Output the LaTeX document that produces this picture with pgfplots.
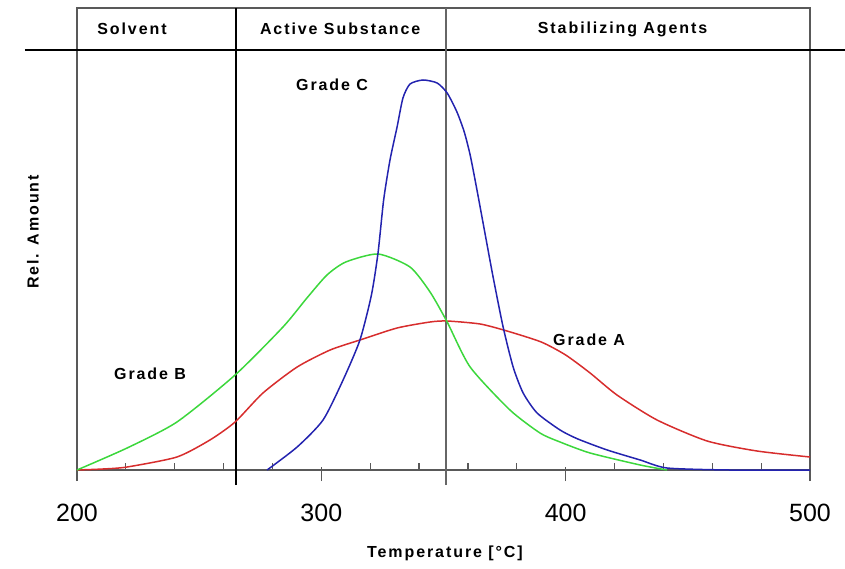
\documentclass[border=0pt]{standalone}
\usepackage{pgfplots}
\pgfplotsset{compat=1.18}
\usepackage{fontspec}
\setmainfont{Liberation Sans}
\newfontfamily\lblfont[LetterSpace=12]{Liberation Sans}

\definecolor{gradeA}{RGB}{215,45,45}
\definecolor{gradeB}{RGB}{60,215,60}
\definecolor{gradeC}{RGB}{35,35,175}

\newcommand{\lbl}[1]{{\lblfont\bfseries\fontsize{16}{19}\selectfont #1}}

\begin{document}
\begin{tikzpicture}
	\path[use as bounding box] (-77pt,-98pt) rectangle (768pt,470pt);
	\begin{axis}[
		scale only axis,
		width = 733pt,
		height = 462pt,
		xmin = 200, xmax = 500,
		ymin = 0, ymax = 462,
		clip = false,
		axis line style = {black!65, line width=1.5pt},
		xtick = {200, 300, 400, 500},
		minor x tick num = 4,
		xtick pos = bottom,
		ytick = \empty,
		tick align = center,
		major tick length = 14pt,
		minor tick length = 7pt,
		major tick style = {black!65, line width=1.2pt, yshift=-4pt},
		minor tick style = {black!65, line width=1.2pt, yshift=3.5pt},
		/pgf/number format/assume math mode = true,
		xticklabel style = {font=\fontsize{25}{30}\selectfont, anchor=base, yshift=-44pt},
		every axis plot/.append style = {line width=1.5pt, smooth, tension=0.4},
	]
		% header band and region borders
		\draw[black, line width=1.5pt] (axis cs:178.7,420) -- (axis cs:514.4,420);
		\draw[black, line width=2pt] (axis cs:265,-15) -- (axis cs:265,462);
		\draw[black!60, line width=2pt] (axis cs:351,-15) -- (axis cs:351,462);

		% Grade A
		\addplot[color = gradeA] coordinates {
		( 200, 0 ) ( 210.6, 1 ) ( 220.5, 3 ) ( 240.9, 13 ) ( 254.4, 30 )
		( 264.7, 48 ) ( 276.1, 77 ) ( 290.1, 103 ) ( 303.6, 120 ) ( 315.8, 130 )
		( 331, 142 ) ( 344.5, 148 ) ( 351.5, 149 ) ( 365, 146 ) ( 376, 139 )
		( 390, 128 ) ( 400, 115 ) ( 410, 97 ) ( 421, 75 ) ( 437.4, 50 ) ( 457.9, 29 )
		( 478.3, 19 ) ( 500, 13 )
		};
		% Grade B
		\addplot[color = gradeB] coordinates {
		( 200, 0 ) ( 220.5, 22 ) ( 240.9, 48 ) ( 264.7, 95 ) ( 284.3, 143 )
		( 294.1, 172 ) ( 302.3, 195 ) ( 310, 208 ) ( 323.2, 216 ) ( 336.3, 203 )
		( 344.5, 178 ) ( 351.5, 148 ) ( 360.9, 103 ) ( 377.2, 60 ) ( 389.5, 37 )
		( 397.7, 28 ) ( 410, 17 ) ( 430.5, 5 ) ( 441.5, 0 )
		};
		% Grade C
		\addplot[color = gradeC] coordinates {
		( 277.8, 0 ) ( 290.1, 23 ) ( 300.7, 50 ) ( 308.9, 90 ) ( 315.8, 130 )
		( 320.5, 175 ) ( 323.2, 217 ) ( 325.5, 270 ) ( 328.1, 310 ) ( 331, 343 )
		( 333.4, 372 ) ( 336.3, 386 ) ( 341.6, 390 ) ( 347.4, 387 ) ( 351.5, 377 )
		( 355.5, 358 ) ( 358.5, 338 ) ( 361, 314 ) ( 363.7, 280 ) ( 366.5, 243 )
		( 370.3, 193 ) ( 374.4, 143 ) ( 378.5, 103 ) ( 382.6, 77 ) ( 388.3, 57 )
		( 397.7, 40 ) ( 405, 31 ) ( 417, 20 ) ( 430.5, 10 ) ( 441.5, 2 )
		( 467, 0 ) ( 500, 0 )
		};

		% labels
		\node at (axis cs:222.5,441) {\lbl{Solvent}};
		\node at (axis cs:307.7,441) {\lbl{Active Substance}};
		\node at (axis cs:423.3,441) {\lbl{Stabilizing Agents}};
		\node at (axis cs:304.4,385) {\lbl{Grade C}};
		\node at (axis cs:229.9,96) {\lbl{Grade B}};
		\node at (axis cs:409.6,130) {\lbl{Grade A}};
		\node at (axis cs:350.6,-83) {\lbl{Temperature [°C]}};
		\node[rotate=90] at (axis cs:182,238) {\lbl{Rel. Amount}};
	\end{axis}
\end{tikzpicture}
\end{document}
